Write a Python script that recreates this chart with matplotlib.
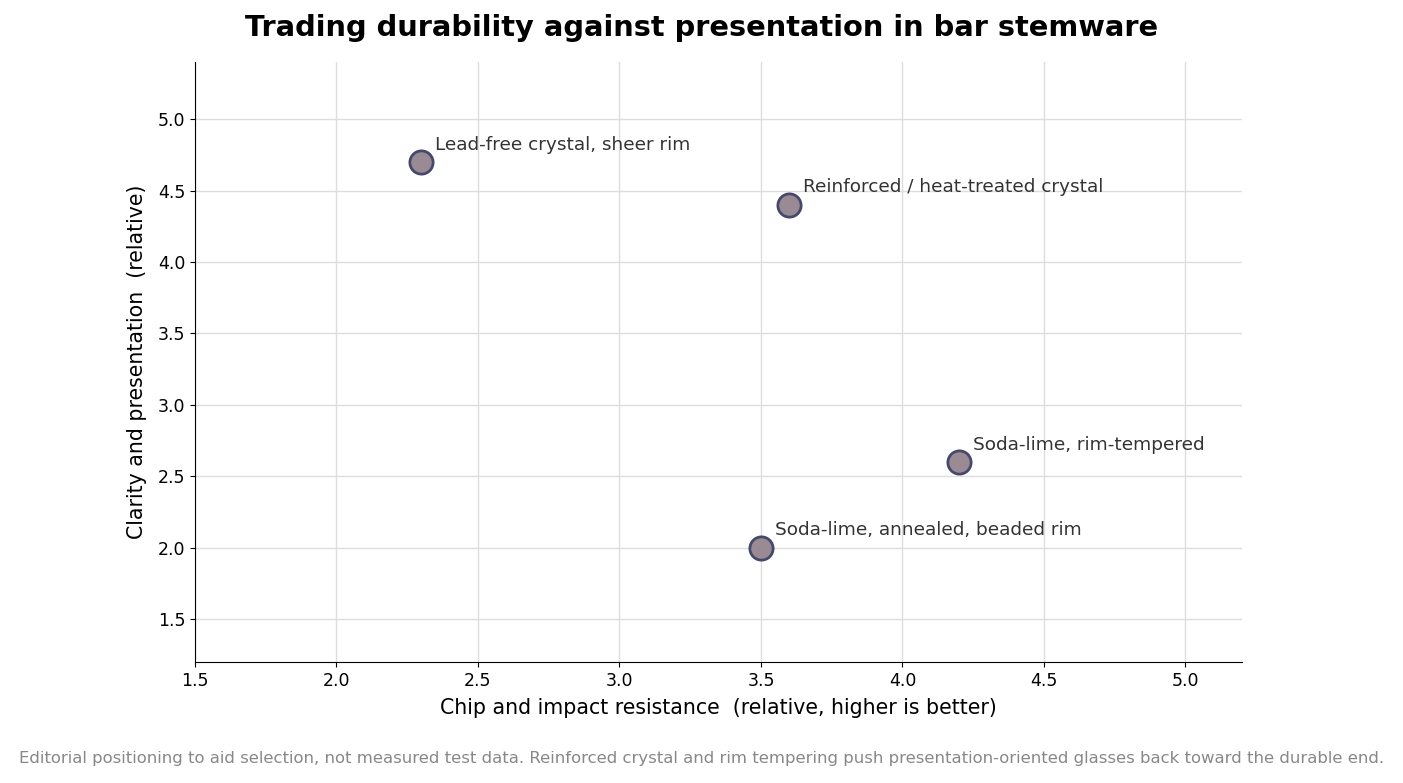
import matplotlib
matplotlib.use("Agg")
import matplotlib.pyplot as plt

labels = ["Lead-free crystal, sheer rim", "Reinforced / heat-treated crystal",
          "Soda-lime, rim-tempered", "Soda-lime, annealed, beaded rim"]
durability = [2.3, 3.6, 4.2, 3.5]
presentation = [4.7, 4.4, 2.6, 2.0]

fig = plt.figure(figsize=(14.03, 7.83), dpi=100)
ax = fig.add_axes([195/1403, 1-662/783, (1242-195)/1403, 600/783])
ax.scatter(durability, presentation, s=280, c="#9a8a94", edgecolors="#454a6a", linewidths=2, zorder=3)
for x, y, t in zip(durability, presentation, labels):
    ax.annotate(t, (x, y), xytext=(10, 9), textcoords="offset points", fontsize=13.3, color="#333333")
ax.set_xlim(1.5, 5.2)
ax.set_ylim(1.2, 5.4)
ax.set_xticks([1.5, 2.0, 2.5, 3.0, 3.5, 4.0, 4.5, 5.0])
ax.set_yticks([1.5, 2.0, 2.5, 3.0, 3.5, 4.0, 4.5, 5.0])
ax.tick_params(labelsize=12.5)
ax.grid(True, color="#dddddd", linewidth=1)
ax.set_axisbelow(True)
for s in ["top", "right"]:
    ax.spines[s].set_visible(False)
ax.set_xlabel("Chip and impact resistance  (relative, higher is better)", fontsize=14.8, labelpad=6)
ax.set_ylabel("Clarity and presentation  (relative)", fontsize=14.8, labelpad=8)
fig.text(0.5, 1-28/783, "Trading durability against presentation in bar stemware",
         ha="center", va="center", fontsize=20.8, fontweight="bold")
fig.text(0.5, 1-758/783, "Editorial positioning to aid selection, not measured test data. Reinforced crystal and rim tempering push presentation-oriented glasses back toward the durable end.",
         ha="center", va="center", fontsize=11.85, color="#888888")
fig.savefig("out.png", dpi=100)
